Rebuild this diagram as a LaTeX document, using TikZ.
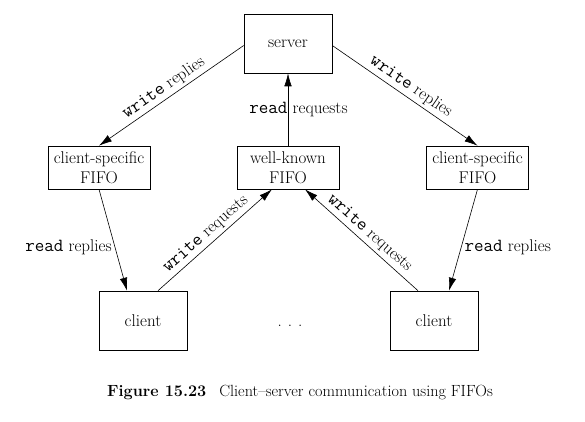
\documentclass[tikz,border=0pt]{standalone}
\usepackage{fontspec}
\usetikzlibrary{arrows.meta}
\newcommand\mycode[1]{{\fontsize{18.5}{20}\selectfont\ttfamily #1}}
\begin{document}
\begin{tikzpicture}[x=1pt,y=-1pt,
  every node/.style={font=\fontsize{17}{20}\selectfont},
  box/.style={draw, line width=0.6pt, minimum width=88pt, minimum height=59pt, inner sep=0pt},
  fifo/.style={draw, line width=0.6pt, minimum width=102pt, minimum height=43pt, align=center, inner sep=0pt},
  arr/.style={line width=0.6pt, -{Latex[length=13pt,width=7.5pt]}},
  arrl/.style={line width=0.6pt, {Latex[length=13pt,width=7.5pt]}-},
  lbl/.style={inner sep=3pt}]
\useasboundingbox (0,0) rectangle (585,422);
\node[box] (server) at (288,43.5) {server};
\node[fifo] (lf) at (99,167.5) {client-specific\\FIFO};
\node[fifo] (wk) at (288,167.5) {well-known\\FIFO};
\node[fifo] (rf) at (477.5,167.5) {client-specific\\FIFO};
\node[box] (cl) at (143,320.5) {client};
\node[box] (cr) at (434,320.5) {client};
\path (cl.base) ++(147,0) node[anchor=base] (dots) {.\hspace{6pt}.\hspace{6pt}.};
\draw[arrl] (lf.north) -- ([yshift=-2pt]server.west)
  node[lbl, pos=0.49, sloped, above] {\mycode{write} replies};
\draw[arr] ([yshift=-2pt]server.east) -- (rf.north)
  node[lbl, pos=0.50, sloped, above] {\mycode{write} replies};
\draw[arr] (wk.north) -- (server.south)
  node[pos=0.5, xshift=10.5pt, inner sep=0pt] {\mycode{read} requests};
\draw[arr] (lf.south) -- ([xshift=-16pt]cl.north)
  node[lbl, pos=0.57, left] {\mycode{read} replies};
\draw[arr] ([xshift=15pt]cl.north) -- ([xshift=-16pt]wk.south)
  node[lbl, pos=0.48, sloped, above] {\mycode{write} requests};
\draw[arrl] ([xshift=17pt]wk.south) -- ([xshift=-16pt]cr.north)
  node[lbl, pos=0.51, sloped, above] {\mycode{write} requests};
\draw[arr] (rf.south) -- ([xshift=15pt]cr.north)
  node[lbl, pos=0.57, right] {\mycode{read} replies};
\node[anchor=base, font=\fontsize{16.2}{19}\selectfont] (caption) at (300,396) {\textbf{Figure 15.23}\hspace{0.8em}Client--server communication using FIFOs};
\end{tikzpicture}
\end{document}
